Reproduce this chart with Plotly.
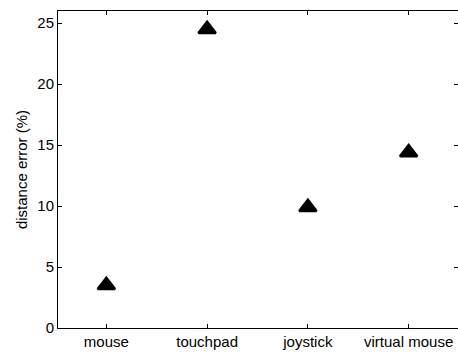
import plotly.graph_objects as go

categories = ["mouse", "touchpad", "joystick", "virtual mouse"]
distance_error = [3.5, 24.5, 9.9, 14.4]
y_ticks = [0, 5, 10, 15, 20, 25]

x_pos = list(range(1, len(categories) + 1))

fig = go.Figure()
fig.add_trace(go.Scatter(
    x=x_pos, y=distance_error, mode="markers",
    marker=dict(symbol="triangle-up", size=15, color="black",
                line=dict(color="black", width=2.5)),
    showlegend=False, cliponaxis=False,
))

font = dict(family="Liberation Sans, Arial, sans-serif", size=15, color="black")

fig.update_layout(
    width=458, height=352,
    margin=dict(l=58, r=0, t=11, b=24, pad=0),
    paper_bgcolor="white", plot_bgcolor="white",
    font=font,
    xaxis=dict(
        range=[0.52, 4.49], tickmode="array", tickvals=x_pos, ticktext=categories,
        ticks="inside", ticklen=4, tickwidth=1, tickcolor="black",
        showline=True, linecolor="black", linewidth=1, mirror="ticks",
        showgrid=False, zeroline=False, tickfont=font,
    ),
    yaxis=dict(
        range=[0, 26], tickmode="array", tickvals=y_ticks,
        ticks="inside", ticklen=4, tickwidth=1, tickcolor="black",
        showline=True, linecolor="black", linewidth=1, mirror="ticks",
        showgrid=False, zeroline=False, tickfont=font,
        title=dict(text="distance error (%)", font=font, standoff=6),
    ),
)

fig.write_html("out.html")
